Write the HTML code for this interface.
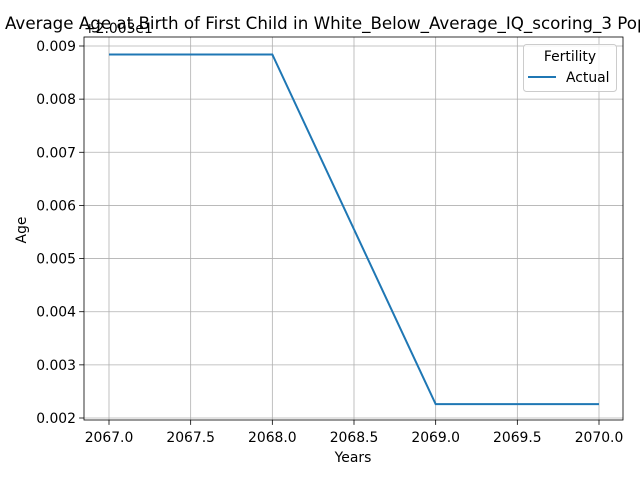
<!DOCTYPE html>
<html><head><meta charset="utf-8"><style>body{margin:0;background:#fff}svg{display:block;font-family:"DejaVu Sans","Liberation Sans",sans-serif}</style></head>
<body>
<svg id="c" width="640" height="480"></svg>
<script>
const years=[2067,2068,2069,2070];
const ages=[0.00884,0.00884,0.00226,0.00226];
const xTicks=[2067.0,2067.5,2068.0,2068.5,2069.0,2069.5,2070.0];
const yTicks=[0.002,0.003,0.004,0.005,0.006,0.007,0.008,0.009];
const L=84,R=623,T=37,B=420;
const X=v=>109+(v-2067)*(599-109)/3;
const Y=v=>418-(v-0.002)*(418-46)/0.007;
const s=document.getElementById('c');const ns='http://www.w3.org/2000/svg';
function mk(t,a,p){const e=document.createElementNS(ns,t);for(const k in a)e.setAttribute(k,a[k]);(p||s).appendChild(e);return e;}
const bg=mk('rect',{x:L,y:T,width:R-L,height:B-T,fill:'#fff'});


xTicks.forEach(v=>{const x=X(v);
const g=mk('line',{x1:x,x2:x,y1:T,y2:B,stroke:'#b0b0b0','stroke-width':0.8});


mk('line',{x1:x,x2:x,y1:B,y2:B+4.9,stroke:'#000','stroke-width':0.8});
const t=mk('text',{x:x,y:B+22,'text-anchor':'middle','font-size':13.9});t.textContent=v.toFixed(1);

});
yTicks.forEach(v=>{const y=Y(v);
const g=mk('line',{x1:L,x2:R,y1:y,y2:y,stroke:'#b0b0b0','stroke-width':0.8});


mk('line',{x1:L-4.9,x2:L,y1:y,y2:y,stroke:'#000','stroke-width':0.8});
const t=mk('text',{x:L-8,y:y+5,'text-anchor':'end','font-size':13.9});t.textContent=v.toFixed(3);

});
const ln=mk('polyline',{points:years.map((y,i)=>X(y)+','+Y(ages[i])).join(' '),fill:'none',stroke:'#1f77b4','stroke-width':2});


const fr=mk('rect',{x:L,y:T,width:R-L,height:B-T,fill:'none',stroke:'#000','stroke-width':0.8});


</script>
<svg width="640" height="480" style="position:absolute;left:0;top:0">
<text x="5" y="29" font-size="16.7" font-family="DejaVu Sans,Liberation Sans,sans-serif">Average Age at Birth of First Child in White_Below_Average_IQ_scoring_3 Population</text>
<text x="84" y="33" font-size="13.9" font-family="DejaVu Sans,Liberation Sans,sans-serif">+2.003e1</text>
<text x="353" y="462" font-size="13.9" text-anchor="middle" font-family="DejaVu Sans,Liberation Sans,sans-serif">Years</text>
<text x="26" y="230" font-size="13.9" text-anchor="middle" transform="rotate(-90 26 230)" font-family="DejaVu Sans,Liberation Sans,sans-serif">Age</text>
<g>
<rect x="523.5" y="44.5" width="93" height="47" rx="3" fill="#fff" fill-opacity="0.8" stroke="#ccc"/>
<text x="570" y="61" font-size="13.9" text-anchor="middle" font-family="DejaVu Sans,Liberation Sans,sans-serif">Fertility</text>
<line x1="528" x2="556" y1="77" y2="77" stroke="#1f77b4" stroke-width="2"/>
<text x="566" y="82" font-size="13.9" font-family="DejaVu Sans,Liberation Sans,sans-serif">Actual</text>
</g>
</svg>
</body></html>
